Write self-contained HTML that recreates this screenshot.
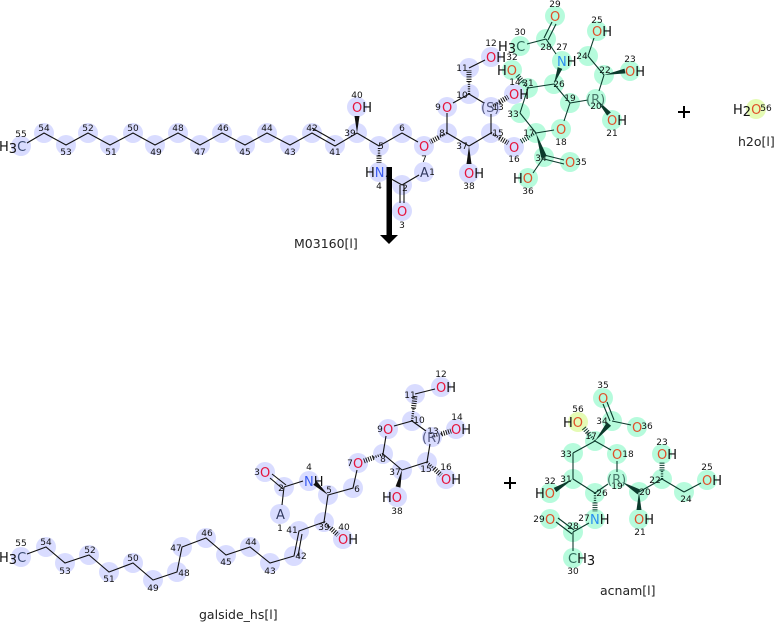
<!DOCTYPE html>
<html><head><meta charset="utf-8"><style>
html,body{margin:0;padding:0;background:#fff;width:774px;height:622px;overflow:hidden}
svg{display:block}
text{font-family:"DejaVu Sans",sans-serif}
.a{fill:#111}
.a text{font-size:13px}
.n{fill:#111}
.n text{font-size:9px;text-anchor:middle}
.l{font-size:12.5px;fill:#222}
.r{fill:#e6143c}.b{fill:#3a5cf0}.or{fill:#e0502a}.bl{fill:#2a90f0}
.bk line,.bk polyline{stroke:#111;stroke-width:1.1;fill:none}
.tk line{stroke:#0c3a2c;stroke-width:1.1;fill:none}
.h1{stroke-dasharray:1 1.3;stroke-width:2.4;fill:none}
.h2{stroke-dasharray:1 1.3;stroke-width:5;fill:none}
</style></head><body>
<svg width="774" height="622" viewBox="0 0 774 622" xmlns="http://www.w3.org/2000/svg">
<!-- halos -->
<g fill="#b6fbdc">
<circle cx="555" cy="16" r="10"/><circle cx="546" cy="39" r="10"/><circle cx="520" cy="46" r="10"/><circle cx="562" cy="61" r="10"/><circle cx="588" cy="56" r="10"/><circle cx="597" cy="31" r="10"/><circle cx="604" cy="75" r="10"/><circle cx="630" cy="71" r="10"/><circle cx="512" cy="70" r="10"/><circle cx="528" cy="88" r="10"/><circle cx="554" cy="84" r="10"/><circle cx="570" cy="103" r="10"/><circle cx="596" cy="99" r="10"/><circle cx="612" cy="120" r="10"/><circle cx="520" cy="113" r="10"/><circle cx="561" cy="129" r="10"/><circle cx="536" cy="133" r="10"/><circle cx="544" cy="157" r="10"/><circle cx="570" cy="162" r="10"/><circle cx="528" cy="178" r="10"/>
<circle cx="603" cy="398" r="10"/><circle cx="612" cy="421" r="10"/><circle cx="637" cy="427" r="10"/><circle cx="595" cy="441" r="10"/><circle cx="573" cy="453" r="10"/><circle cx="573" cy="479" r="10"/><circle cx="550" cy="493" r="10"/><circle cx="595" cy="493" r="10"/><circle cx="595" cy="519" r="10"/><circle cx="573" cy="532" r="10"/><circle cx="550" cy="519" r="10"/><circle cx="573" cy="558" r="10"/><circle cx="617" cy="454" r="10"/><circle cx="617" cy="479" r="10"/><circle cx="639" cy="492" r="10"/><circle cx="639" cy="519" r="10"/><circle cx="662" cy="479" r="10"/><circle cx="662" cy="454" r="10"/><circle cx="684" cy="492" r="10"/><circle cx="707" cy="480" r="10"/>
</g>
<g fill="#d9dcff">
<circle cx="21" cy="146" r="10"/><circle cx="44" cy="133" r="10"/><circle cx="66" cy="145" r="10"/><circle cx="88" cy="133" r="10"/><circle cx="110" cy="145" r="10"/><circle cx="133" cy="133" r="10"/><circle cx="155" cy="145" r="10"/><circle cx="178" cy="133" r="10"/><circle cx="200" cy="145" r="10"/><circle cx="222" cy="133" r="10"/><circle cx="245" cy="145" r="10"/><circle cx="267" cy="133" r="10"/><circle cx="290" cy="145" r="10"/><circle cx="312" cy="133" r="10"/><circle cx="335" cy="145" r="10"/><circle cx="357" cy="133" r="10"/><circle cx="379" cy="146" r="10"/><circle cx="402" cy="133" r="10"/><circle cx="424" cy="146" r="10"/><circle cx="447" cy="133" r="10"/><circle cx="447" cy="107" r="10"/><circle cx="469" cy="94" r="10"/><circle cx="469" cy="68" r="10"/><circle cx="491" cy="57" r="10"/><circle cx="491" cy="107" r="10"/><circle cx="491" cy="133" r="10"/><circle cx="469" cy="146" r="10"/><circle cx="469" cy="173" r="10"/><circle cx="357" cy="107" r="10"/><circle cx="379" cy="172" r="10"/><circle cx="402" cy="185" r="10"/><circle cx="402" cy="211" r="10"/><circle cx="424" cy="172" r="10"/><circle cx="514" cy="94" r="10"/><circle cx="514" cy="147" r="10"/>
<circle cx="21" cy="557" r="10"/><circle cx="46" cy="547" r="10"/><circle cx="65" cy="563" r="10"/><circle cx="89" cy="555" r="10"/><circle cx="109" cy="572" r="10"/><circle cx="133" cy="563" r="10"/><circle cx="153" cy="580" r="10"/><circle cx="177" cy="572" r="10"/><circle cx="182" cy="547" r="10"/><circle cx="206" cy="538" r="10"/><circle cx="226" cy="555" r="10"/><circle cx="250" cy="547" r="10"/><circle cx="270" cy="563" r="10"/><circle cx="294" cy="556" r="10"/><circle cx="299" cy="531" r="10"/><circle cx="324" cy="522" r="10"/><circle cx="328" cy="495" r="10"/><circle cx="280" cy="514" r="10"/><circle cx="284" cy="487" r="10"/><circle cx="265" cy="472" r="10"/><circle cx="309" cy="481" r="10"/><circle cx="353" cy="488" r="10"/><circle cx="358" cy="463" r="10"/><circle cx="383" cy="454" r="10"/><circle cx="388" cy="429" r="10"/><circle cx="412" cy="421" r="10"/><circle cx="415" cy="394" r="10"/><circle cx="441" cy="387" r="10"/><circle cx="432" cy="437" r="10"/><circle cx="456" cy="429" r="10"/><circle cx="427" cy="462" r="10"/><circle cx="446" cy="479" r="10"/><circle cx="402" cy="470" r="10"/><circle cx="397" cy="497" r="10"/><circle cx="343" cy="539" r="10"/>
</g>
<g fill="#e5fbb5"><circle cx="756" cy="109" r="10"/><circle cx="578" cy="422" r="10"/></g>

<!-- atom numbers (under bonds) -->
<g class="n">
<text x="21" y="137">55</text><text x="44" y="131">54</text><text x="66" y="155">53</text><text x="88" y="131">52</text><text x="111" y="155">51</text><text x="133" y="131">50</text><text x="156" y="155">49</text><text x="178" y="131">48</text><text x="200" y="155">47</text><text x="223" y="131">46</text><text x="245" y="155">45</text><text x="267" y="131">44</text><text x="290" y="155">43</text><text x="312" y="131">42</text><text x="335" y="155">41</text>
<text x="350" y="136">39</text><text x="357" y="98">40</text><text x="402" y="131">6</text><text x="424" y="162">7</text><text x="442" y="136">8</text><text x="438" y="110">9</text><text x="462" y="98">10</text><text x="462" y="71">11</text><text x="491" y="46">12</text><text x="498" y="110">13</text><text x="515" y="85">14</text><text x="498" y="136">15</text><text x="514" y="162">16</text><text x="462" y="149">37</text><text x="469" y="189">38</text><text x="381" y="149">5</text><text x="379" y="189">4</text><text x="405" y="191">2</text><text x="402" y="228">3</text><text x="432" y="175">1</text>
<text x="528" y="194">36</text><text x="541" y="161">34</text><text x="581" y="165">35</text><text x="529" y="136">17</text><text x="561" y="145">18</text><text x="570" y="101">19</text><text x="596" y="109">20</text><text x="612" y="136">21</text><text x="605" y="73">22</text><text x="630" y="62">23</text><text x="582" y="59">24</text><text x="597" y="23">25</text><text x="559" y="87">26</text><text x="562" y="50">27</text><text x="546" y="50">28</text><text x="555" y="7">29</text><text x="520" y="35">30</text><text x="528" y="86">31</text><text x="512" y="60">32</text><text x="513" y="117">33</text>
<text x="766" y="111">56</text>

<text x="21" y="546">55</text><text x="46" y="545">54</text><text x="65" y="574">53</text><text x="90" y="553">52</text><text x="109" y="582">51</text><text x="133" y="561">50</text><text x="153" y="591">49</text><text x="184" y="576">48</text><text x="176" y="551">47</text><text x="207" y="536">46</text><text x="226" y="565">45</text><text x="251" y="545">44</text><text x="270" y="574">43</text><text x="301" y="559">42</text><text x="292" y="533">41</text><text x="280" y="531">1</text>
<text x="257" y="475">3</text><text x="281" y="491">2</text><text x="309" y="470">4</text><text x="329" y="493">5</text><text x="357" y="492">6</text><text x="350" y="466">7</text><text x="383" y="462">8</text><text x="380" y="432">9</text><text x="419" y="423">10</text><text x="410" y="398">11</text><text x="441" y="377">12</text><text x="433" y="434">13</text><text x="457" y="420">14</text><text x="426" y="472">15</text><text x="446" y="470">16</text><text x="395" y="475">37</text><text x="397" y="514">38</text><text x="324" y="530">39</text><text x="344" y="530">40</text>

<text x="603" y="388">35</text><text x="602" y="424">34</text><text x="647" y="429">36</text><text x="578" y="412">56</text><text x="591" y="439">17</text><text x="566" y="457">33</text><text x="628" y="457">18</text><text x="566" y="482">31</text><text x="550" y="484">32</text><text x="617" y="489">19</text><text x="602" y="496">26</text><text x="645" y="495">20</text><text x="655" y="483">22</text><text x="662" y="445">23</text><text x="686" y="502">24</text><text x="707" y="470">25</text><text x="640" y="535">21</text><text x="584" y="521">27</text><text x="573" y="529">28</text><text x="539" y="522">29</text><text x="573" y="574">30</text>
</g>

<!-- bonds -->
<g class="bk">
<polyline points="27,143 44,133 66,145 88,133 110,145 133,133 155,145 178,133 200,145 222,133 245,145 267,133 290,145 312,133 335,146 357,133 379,146 402,133 418,142"/>
<line x1="312" y1="128" x2="335" y2="141"/>
<line x1="447" y1="133" x2="447" y2="113"/><line x1="453" y1="103" x2="469" y2="94"/><line x1="469" y1="94" x2="484" y2="103"/><line x1="491" y1="114" x2="491" y2="133"/><line x1="491" y1="133" x2="469" y2="146"/><line x1="469" y1="146" x2="447" y2="133"/><line x1="469" y1="68" x2="485" y2="60"/>
<line x1="386" y1="176" x2="402" y2="185"/><line x1="402" y1="185" x2="419" y2="175"/><line x1="400" y1="185" x2="400" y2="203"/><line x1="404" y1="185" x2="404" y2="203"/>
<polyline points="27,554 46,547 65,563 89,555 109,572 133,563 153,580 177,572 182,547 206,538 226,555 250,547 270,563 294,556 299,531 324,522 328,495 353,488 357,470"/>
<line x1="298" y1="556" x2="302" y2="534"/>
<line x1="284" y1="487" x2="303" y2="481"/><line x1="284" y1="487" x2="282" y2="505"/><line x1="283" y1="489" x2="270" y2="478"/><line x1="286" y1="485" x2="272" y2="474"/>
<line x1="383" y1="454" x2="386" y2="436"/><line x1="394" y1="426" x2="412" y2="421"/><line x1="412" y1="421" x2="426" y2="431"/><line x1="430" y1="444" x2="427" y2="462"/><line x1="427" y1="462" x2="402" y2="470"/><line x1="402" y1="470" x2="383" y2="454"/><line x1="415" y1="394" x2="435" y2="389"/>
</g>
<g class="tk">
<line x1="536" y1="133" x2="520" y2="113"/><line x1="520" y1="113" x2="528" y2="88"/><line x1="528" y1="88" x2="554" y2="84"/><line x1="554" y1="84" x2="570" y2="103"/><line x1="570" y1="103" x2="588" y2="100"/><line x1="570" y1="103" x2="564" y2="121"/><line x1="554" y1="130" x2="536" y2="133"/><line x1="544" y1="155" x2="564" y2="160"/><line x1="544" y1="159" x2="564" y2="164"/><line x1="544" y1="157" x2="533" y2="173"/><line x1="599" y1="91" x2="604" y2="75"/><line x1="604" y1="75" x2="588" y2="56"/><line x1="588" y1="56" x2="594" y2="38"/><line x1="556" y1="54" x2="546" y2="39"/><line x1="544" y1="38" x2="552" y2="22"/><line x1="548" y1="40" x2="556" y2="24"/><line x1="546" y1="39" x2="527" y2="44"/>
<line x1="610" y1="421" x2="603" y2="404"/><line x1="614" y1="420" x2="607" y2="402"/><line x1="612" y1="421" x2="631" y2="425"/><line x1="595" y1="441" x2="573" y2="453"/><line x1="573" y1="453" x2="573" y2="479"/><line x1="573" y1="479" x2="595" y2="493"/><line x1="595" y1="493" x2="608" y2="484"/><line x1="595" y1="441" x2="611" y2="450"/><line x1="617" y1="461" x2="617" y2="472"/><line x1="639" y1="492" x2="662" y2="479"/><line x1="662" y1="479" x2="684" y2="492"/><line x1="684" y1="492" x2="701" y2="483"/><line x1="589" y1="523" x2="573" y2="532"/><line x1="572" y1="534" x2="556" y2="522"/><line x1="574" y1="530" x2="558" y2="518"/><line x1="573" y1="532" x2="573" y2="551"/>
</g>
<!-- hashed -->
<g stroke="#111">
<path class="h1" d="M379 148L379 155.5"/><path class="h2" d="M379 155.5L379 163"/>
<path class="h1" d="M447 133L438.5 137.5"/><path class="h2" d="M438.5 137.5L430 142"/>
<path class="h1" d="M469 94L469 82"/><path class="h2" d="M469 82L469 70"/>
<path class="h1" d="M491 107L499.5 102"/><path class="h2" d="M499.5 102L508 97"/>
<path class="h1" d="M491 133L499.5 138"/><path class="h2" d="M499.5 138L508 143"/>
<path class="h1" d="M324 522L331 528.5"/><path class="h2" d="M331 528.5L338 535"/>
<path class="h1" d="M383 454L373.5 457.5"/><path class="h2" d="M373.5 457.5L364 461"/>
<path class="h1" d="M412 421L413.5 408.5"/><path class="h2" d="M413.5 408.5L415 396"/>
<path class="h1" d="M432 437L441.5 434"/><path class="h2" d="M441.5 434L451 431"/>
<path class="h1" d="M427 462L434 468.5"/><path class="h2" d="M434 468.5L441 475"/>
</g>
<g stroke="#0c3a2c">
<path class="h1" d="M536 133L528 137.5"/><path class="h2" d="M528 137.5L520 142"/>
<path class="h1" d="M528 88L522.5 81.5"/><path class="h2" d="M522.5 81.5L517 75"/>
<path class="h1" d="M595 441L589 434"/><path class="h2" d="M589 434L583 427"/>
<path class="h1" d="M595 493L595 502.5"/><path class="h2" d="M595 502.5L595 512"/>
<path class="h1" d="M662 479L662 470.5"/><path class="h2" d="M662 470.5L662 462"/>
</g>
<!-- wedges -->
<g fill="#111">
<polygon points="357,133 354.5,116 359.5,116"/><polygon points="469,146 466.5,164 471.5,164"/>
<polygon points="328,495 316.7,481.2 313.3,484.8"/><polygon points="402,470 400.4,487.6 395.6,486.4"/>
</g>
<g fill="#0c3a2c">
<polygon points="536,133 541.2,157.9 546.8,156.1"/><polygon points="554,84 557.7,67.1 562.3,68.9"/><polygon points="604,75 625.5,73.4 624.5,68.6"/><polygon points="596,99 610.9,112.4 607.1,115.6"/>
<polygon points="595,441 611.1,425.8 606.9,422.2"/><polygon points="573,479 556.3,492.1 553.7,487.9"/><polygon points="622,482 640.4,489.6 637.6,494.4"/><polygon points="639,492 636.5,510 641.5,510"/>
</g>
<!-- reaction arrow -->
<rect x="386.5" y="167" width="5.5" height="69" fill="#000"/>
<polygon points="380,235 398,235 389,244" fill="#000"/>
<!-- atom labels -->
<g class="a">
<text x="-1" y="151">H<tspan dy="2">3</tspan><tspan dy="-2" fill="#3a4a70">C</tspan></text>
<text x="352" y="112"><tspan class="r">O</tspan>H</text>
<text x="419" y="151"><tspan class="r">O</tspan></text>
<text x="442" y="112"><tspan class="r">O</tspan></text>
<text x="486" y="62"><tspan class="r">O</tspan>H</text>
<text x="481" y="112"><tspan fill="#555a80">(S)</tspan></text>
<text x="509" y="99"><tspan class="r">O</tspan>H</text>
<text x="509" y="152"><tspan class="r">O</tspan></text>
<text x="464" y="178"><tspan class="r">O</tspan>H</text>
<text x="365" y="177">H<tspan class="b">N</tspan></text>
<text x="397" y="216"><tspan class="r">O</tspan></text>
<text x="420" y="177"><tspan fill="#333a60">A</tspan></text>
<text x="498" y="51">H<tspan dy="2">3</tspan><tspan dy="-2" fill="#2c6a58">C</tspan></text>
<text x="550" y="21"><tspan class="or">O</tspan></text>
<text x="557" y="66"><tspan class="bl">N</tspan>H</text>
<text x="592" y="36"><tspan class="or">O</tspan>H</text>
<text x="625" y="76"><tspan class="or">O</tspan>H</text>
<text x="607" y="125"><tspan class="or">O</tspan>H</text>
<text x="586" y="104"><tspan fill="#4a7a6c">(R)</tspan></text>
<text x="556" y="134"><tspan class="or">O</tspan></text>
<text x="565" y="167"><tspan class="or">O</tspan></text>
<text x="513" y="183">H<tspan class="or">O</tspan></text>
<text x="497" y="75">H<tspan class="or">O</tspan></text>
<text x="733" y="114">H<tspan dy="2">2</tspan><tspan dy="-2" class="or">O</tspan></text>

<text x="-1" y="562">H<tspan dy="2">3</tspan><tspan dy="-2" fill="#3a4a70">C</tspan></text>
<text x="260" y="477"><tspan class="r">O</tspan></text>
<text x="304" y="486"><tspan class="b">N</tspan>H</text>
<text x="276" y="519"><tspan fill="#333a60">A</tspan></text>
<text x="353" y="468"><tspan class="r">O</tspan></text>
<text x="383" y="434"><tspan class="r">O</tspan></text>
<text x="436" y="392"><tspan class="r">O</tspan>H</text>
<text x="451" y="434"><tspan class="r">O</tspan>H</text>
<text x="441" y="484"><tspan class="r">O</tspan>H</text>
<text x="382" y="502">H<tspan class="r">O</tspan></text>
<text x="338" y="544"><tspan class="r">O</tspan>H</text>
<text x="422" y="442"><tspan fill="#555a80">(R)</tspan></text>

<text x="598" y="403"><tspan class="or">O</tspan></text>
<text x="632" y="432"><tspan class="or">O</tspan></text>
<text x="563" y="427">H<tspan class="or">O</tspan></text>
<text x="535" y="498">H<tspan class="or">O</tspan></text>
<text x="612" y="459"><tspan class="or">O</tspan></text>
<text x="607" y="484"><tspan fill="#4a7a6c">(R)</tspan></text>
<text x="657" y="459"><tspan class="or">O</tspan>H</text>
<text x="702" y="485"><tspan class="or">O</tspan>H</text>
<text x="634" y="524"><tspan class="or">O</tspan>H</text>
<text x="590" y="524"><tspan class="bl">N</tspan>H</text>
<text x="545" y="524"><tspan class="or">O</tspan></text>
<text x="568" y="563"><tspan fill="#2c6a58">C</tspan>H<tspan dy="2">3</tspan></text>
</g>
<!-- names -->
<text class="l" x="294" y="248">M03160[l]</text>
<text class="l" x="738" y="146">h2o[l]</text>
<text class="l" x="199" y="619">galside_hs[l]</text>
<text class="l" x="600" y="595">acnam[l]</text>
<!-- plus signs -->
<g fill="#000">
<rect x="678" y="111" width="12" height="2"/><rect x="683" y="106" width="2" height="12"/>
<rect x="504" y="482" width="12" height="2"/><rect x="509" y="477" width="2" height="12"/>
</g>
</svg>
</body></html>
